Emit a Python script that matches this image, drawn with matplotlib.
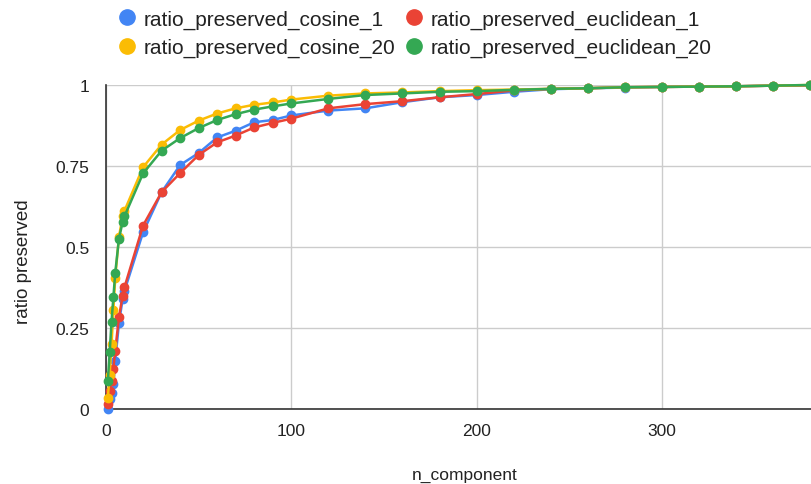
import matplotlib.pyplot as plt
from matplotlib.lines import Line2D

plt.rcParams['font.family'] = ['Liberation Sans', 'DejaVu Sans']

# n_component values
n_component = [1, 2, 3, 4, 5, 7, 9, 10,
               20, 30, 40, 50, 60, 70, 80, 90, 100,
               120, 140, 160, 180, 200, 220, 240, 260, 280, 300, 320, 340, 360, 380]

cosine_1 = [0.0, 0.031, 0.05, 0.077, 0.149, 0.265, 0.34, 0.365,
            0.545, 0.669, 0.753, 0.79, 0.838, 0.859, 0.885, 0.892, 0.906,
            0.921, 0.928, 0.947, 0.962, 0.969, 0.979, 0.987, 0.99, 0.992, 0.994, 0.995, 0.996, 0.998, 0.999]

euclidean_1 = [0.015, 0.057, 0.087, 0.125, 0.18, 0.283, 0.35, 0.376,
               0.566, 0.669, 0.728, 0.784, 0.823, 0.844, 0.869, 0.883, 0.896,
               0.928, 0.941, 0.950, 0.962, 0.972, 0.983, 0.988, 0.99, 0.993, 0.994, 0.995, 0.996, 0.998, 0.999]

cosine_20 = [0.035, 0.105, 0.2, 0.305, 0.405, 0.531, 0.595, 0.612,
             0.746, 0.816, 0.861, 0.890, 0.912, 0.928, 0.939, 0.946, 0.955,
             0.967, 0.974, 0.977, 0.981, 0.984, 0.986, 0.988, 0.99, 0.993, 0.994, 0.995, 0.996, 0.998, 1.0]

euclidean_20 = [0.085, 0.175, 0.27, 0.345, 0.42, 0.525, 0.578, 0.595,
                0.727, 0.797, 0.836, 0.867, 0.892, 0.910, 0.924, 0.934, 0.943,
                0.957, 0.969, 0.974, 0.979, 0.981, 0.985, 0.988, 0.99, 0.993, 0.994, 0.995, 0.996, 0.998, 1.0]

series = [
    ('ratio_preserved_cosine_1', cosine_1, '#4285F4'),
    ('ratio_preserved_euclidean_1', euclidean_1, '#EA4335'),
    ('ratio_preserved_cosine_20', cosine_20, '#FBBC04'),
    ('ratio_preserved_euclidean_20', euclidean_20, '#34A853'),
]

fig = plt.figure(figsize=(8.12, 4.85), dpi=100)
ax = fig.add_axes([0.1305, 0.1546, 0.8695, 0.6681])

for name, vals, color in series:
    ax.plot(n_component, vals, color=color, linewidth=1.8, marker='o', markersize=6,
            label=name, clip_on=False, zorder=3)

ax.set_xlim(0, 381)
ax.set_ylim(0, 1)
ax.set_xticks([0, 100, 200, 300])
ax.set_yticks([0, 0.25, 0.5, 0.75, 1])
ax.set_yticklabels(['0', '0.25', '0.5', '0.75', '1'])
ax.tick_params(length=0, labelsize=12.5, colors='#222222', pad=10)
ax.tick_params(axis='y', pad=12)
ax.grid(True, color='#cccccc', linewidth=1)
ax.set_axisbelow(True)
for s in ['top', 'right']:
    ax.spines[s].set_visible(False)
for s in ['left', 'bottom']:
    ax.spines[s].set_color('#333333')
    ax.spines[s].set_linewidth(1.2)

ax.set_xlabel('n_component', fontsize=12.5, color='#222222')
ax.set_ylabel('ratio preserved', fontsize=13.5, color='#222222')
ax.xaxis.set_label_coords(0.508, -0.18)
ax.yaxis.set_label_coords(-0.105, 0.457)

# legend: cosine in first column, euclidean in second
order = [0, 2, 1, 3]
handles = [Line2D([], [], linestyle='none', marker='o', markersize=11, color=series[i][2]) for i in order]
labels = [series[i][0] for i in order]
fig.legend(handles, labels, loc='upper center', bbox_to_anchor=(0.51, 1.017), ncol=2,
           frameon=False, fontsize=15, handletextpad=0.3, columnspacing=0.4, labelspacing=0.45,
           handlelength=1.0, labelcolor='#222222')

plt.savefig('out.png', dpi=100)
